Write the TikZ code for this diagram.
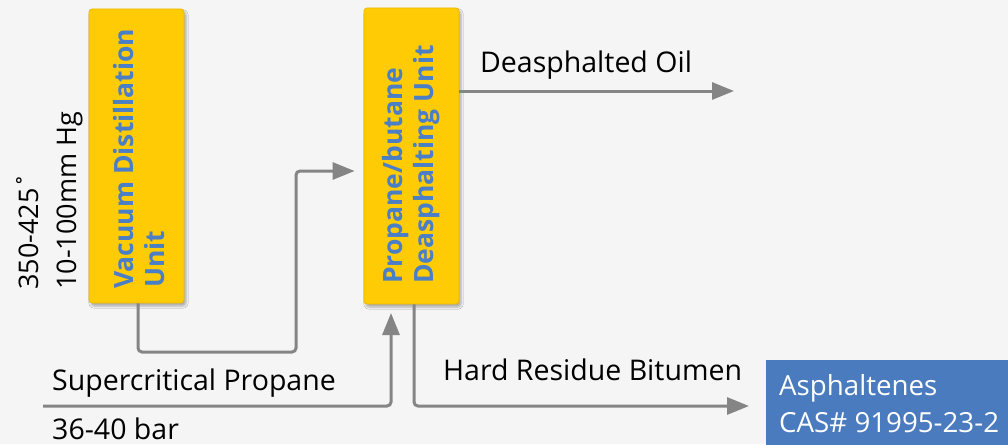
\documentclass[tikz,border=0pt]{standalone}
\usepackage{fontspec}
\setmainfont{Open Sans}
\usetikzlibrary{arrows.meta,shadows.blur}
\definecolor{bg}{HTML}{F5F5F5}
\definecolor{unitfill}{HTML}{FFCB05}
\definecolor{unitedge}{HTML}{EDB800}
\definecolor{unittext}{HTML}{4A7EC7}
\definecolor{flow}{HTML}{858585}
\definecolor{prodblue}{HTML}{4A7BBF}
\tikzset{
  unitbox/.style={fill=unitfill, draw=unitedge, line width=0.8pt, rounded corners=3pt,
    blur shadow={shadow xshift=2pt, shadow yshift=-3pt, shadow blur steps=6, shadow opacity=30},
    inner sep=0pt},
  unitlabel/.style={rotate=90, anchor=base west, inner sep=0pt, text=unittext,
    font=\fontsize{26.5}{30}\selectfont\bfseries},
  sidelabel/.style={rotate=90, anchor=base west, inner sep=0pt, font=\fontsize{27}{30}\selectfont},
  flowlabel/.style={anchor=base west, inner sep=0pt, font=\fontsize{28.5}{32}\selectfont},
  flowline/.style={draw=flow, line width=3pt, rounded corners=4pt,
    -{Triangle[length=22pt,width=17pt]}},
  prodlabel/.style={anchor=base west, inner sep=0pt, text=white, font=\fontsize{27.7}{32}\selectfont}
}
\begin{document}
\begin{tikzpicture}[x=1pt,y=-1pt]
\path[fill=bg] (0,0) rectangle (1008,444);
\useasboundingbox (0,0) rectangle (1008,444);

% units
\node[unitbox, minimum width=95pt, minimum height=294pt] (vdu) at (136.5,156) {};
\node[unitbox, minimum width=95pt, minimum height=296pt] (pdu) at (411.5,156) {};
\node[unitlabel] (vdu1) at (133,289) {Vacuum Distillation};
\node[unitlabel] (vdu2) at (164,288) {Unit};
\node[unitlabel] (pdu1) at (402,284) {Propane/butane};
\node[unitlabel] (pdu2) at (433,284) {Deasphalting Unit};

% side conditions
\node[sidelabel] (temp) at (38,290) {350-425˚};
\node[sidelabel] (press) at (76,290) {10-100mm Hg};

% coordinates
\coordinate (vduout) at (vdu.south -| 138,0);
\coordinate (pduin) at (pdu.west |- 0,171);
\coordinate (pduoil) at (pdu.east |- 0,91);
\coordinate (oilend) at (734,91);
\coordinate (propstart) at (43,406);
\coordinate (pdubot) at (391,313);
\coordinate (residout) at (pdu.south -| 414,0);
\coordinate (residend) at (749,406);

% flows
\draw[flowline] (vduout) |- (296,352) |- ([xshift=-9pt]pduin);
\draw[flowline] (pduoil) -- (oilend);
\draw[flowline] (propstart) -| (pdubot);
\draw[flowline] (residout) |- (residend);

% labels
\node[flowlabel] (oil) at (480,72) {Deasphalted Oil};
\node[flowlabel] (prop) at (52,390) {Supercritical Propane};
\node[flowlabel] (bar) at (52,439) {36-40 bar};
\node[flowlabel] (resid) at (443,380) {Hard Residue Bitumen};

% product
\node[fill=prodblue, minimum width=260pt, minimum height=100pt, anchor=north west, inner sep=0pt] (asph) at (766,360) {};
\node[prodlabel] (asph1) at (779,395) {Asphaltenes};
\node[prodlabel] (asph2) at (779,432) {CAS\# 91995-23-2};
\end{tikzpicture}
\end{document}
